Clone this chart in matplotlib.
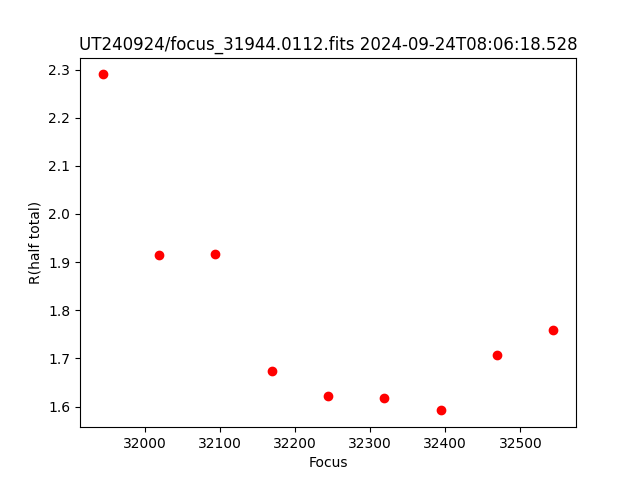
import matplotlib
matplotlib.use("Agg")
import matplotlib.pyplot as plt

focus = [31944, 32019, 32094, 32169, 32244, 32319, 32394, 32469, 32544]
r_half = [2.290, 1.914, 1.916, 1.673, 1.621, 1.617, 1.592, 1.708, 1.760]

fig, ax = plt.subplots(figsize=(6.4, 4.8), dpi=100)
ax.plot(focus, r_half, 'ro')
ax.set_xlabel("Focus")
ax.set_ylabel("R(half total)")
ax.set_title("UT240924/focus_31944.0112.fits 2024-09-24T08:06:18.528")

fig.savefig("out.png")
